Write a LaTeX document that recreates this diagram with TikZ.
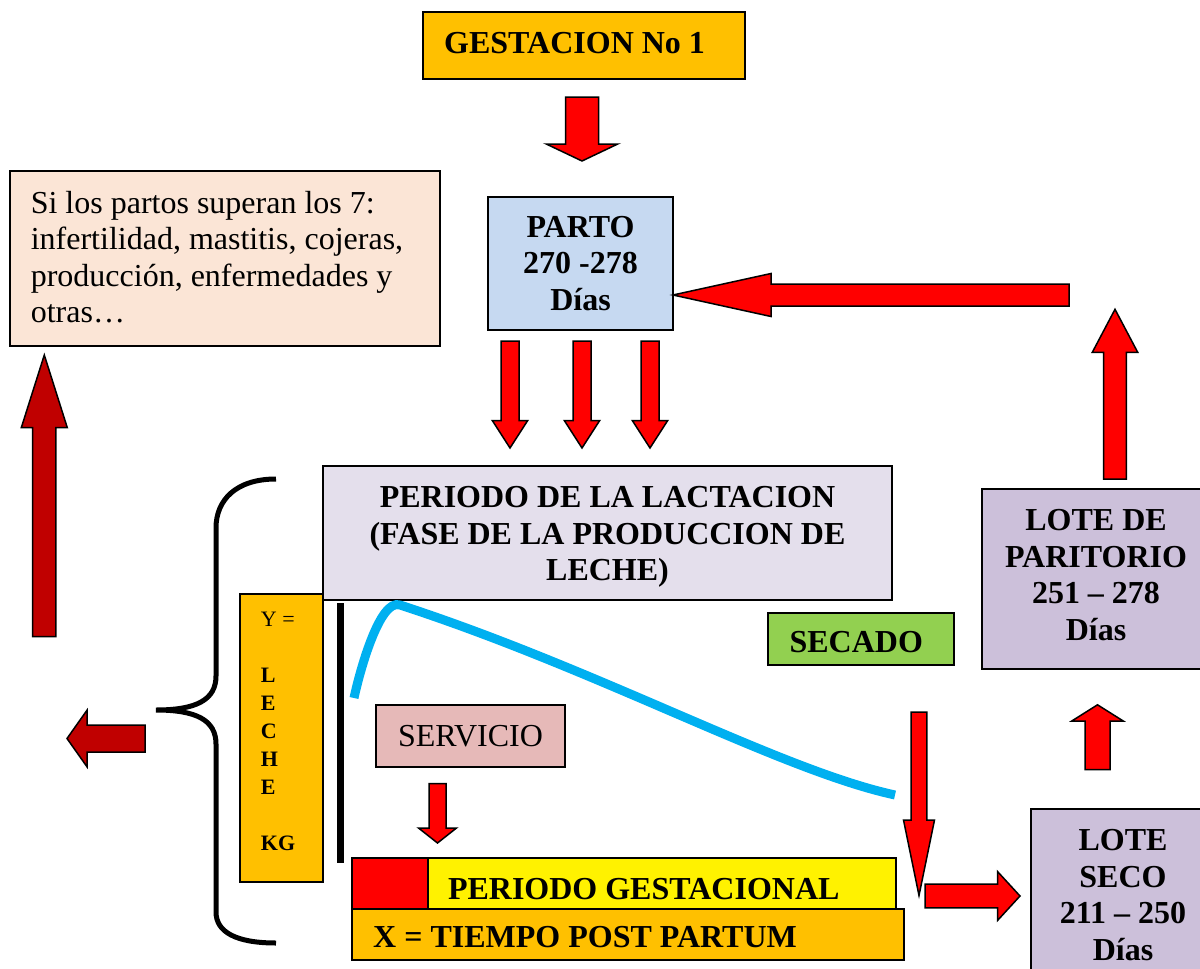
\documentclass[tikz,border=0pt]{standalone}
\usepackage{fontspec}
\setmainfont{Liberation Serif}
\usetikzlibrary{calc}

\definecolor{gold}{HTML}{FFC000}
\definecolor{peach}{HTML}{FBE5D6}
\definecolor{skyblue}{HTML}{C6D9F1}
\definecolor{lavender}{HTML}{E4DFEC}
\definecolor{lilac}{HTML}{CCC0DA}
\definecolor{rose}{HTML}{E6B9B8}
\definecolor{leaf}{HTML}{92D050}
\definecolor{darkred}{HTML}{C00000}
\definecolor{milkline}{HTML}{00B0F0}

% block arrow: tail, tip, half shaft, half head, head length, fill
\newcommand{\blockarrow}[6]{%
  \path ($(#2)!#5!(#1)$) coordinate (hb);
  \filldraw[arrowline, fill=#6] ($(#1)!#3!90:(#2)$) -- ($(hb)!#3!-90:(#1)$) -- ($(hb)!#4!-90:(#1)$) -- (#2)
    -- ($(hb)!#4!90:(#1)$) -- ($(hb)!#3!90:(#1)$) -- ($(#1)!#3!-90:(#2)$) -- cycle;
}

\begin{document}
\begin{tikzpicture}[x=1pt, y=-1pt,
    box/.style={draw, line width=2pt, inner sep=0pt, outer sep=0pt, anchor=north west, align=center},
    boldtxt/.style={inner sep=0pt, font=\fontsize{32}{36.5}\selectfont\bfseries},
    plaintxt/.style={inner sep=0pt, font=\fontsize{32}{36.5}\selectfont},
    arrowline/.style={draw=black, line width=1.5pt}]
    \useasboundingbox (0,0) rectangle (1200,969);

    % Top boxes
    \node[box, fill=gold, minimum width=322pt, minimum height=67pt] (gest) at (423,12) {};
    \node[boldtxt, anchor=base west] (gestlbl) at (444,53) {GESTACION No 1};

    \node[box, fill=peach, minimum width=430pt, minimum height=175pt] (note) at (10,171) {};
    \node[plaintxt, anchor=north west, align=left] (notelbl) at (30.6,191)
        {Si los partos superan los 7:\\infertilidad, mastitis, cojeras,\\producción, enfermedades y\\otras…};

    \node[box, boldtxt, fill=skyblue, minimum width=185pt, minimum height=133pt] (parto) at (488,197) {PARTO\\270 -278\\Días};

    % Lactation block
    \node[box, fill=lavender, minimum width=569pt, minimum height=134pt] (lact) at (323,466) {};
    \node[boldtxt, align=center] (lactlbl) at ($(lact.center)+(0,4)$)
        {PERIODO DE LA LACTACION\\(FASE DE LA PRODUCCION DE\\LECHE)};

    \node[box, fill=gold, minimum width=83pt, minimum height=288pt] (leche) at (240,594) {};
    \node[inner sep=0pt, anchor=north west, align=left, font=\fontsize{22}{28}\selectfont\bfseries] (lechelbl) at (260.7,612)
        {{\mdseries Y =}\\[28pt]L\\E\\C\\H\\E\\[28pt]KG};

    \node[box, plaintxt, fill=rose, minimum width=189pt, minimum height=62pt] (serv) at (376,705) {SERVICIO};

    \node[box, fill=red, minimum width=76pt, minimum height=51pt] (redbox) at (352,858) {};
    \node[box, fill=yellow, minimum width=468pt, minimum height=51pt] (yellowbox) at (428,858) {};
    \node[box, fill=gold, minimum width=552pt, minimum height=51pt] (xbox) at (352,909) {};
    \node[boldtxt, anchor=base west] (gestac) at (447.8,899) {PERIODO GESTACIONAL};
    \node[boldtxt, anchor=base west] (xlbl) at (373,947.8) {X = TIEMPO POST PARTUM};

    % Right side boxes
    \node[box, fill=leaf, minimum width=186pt, minimum height=52pt] (secado) at (768,613) {};
    \node[boldtxt, anchor=base west] (secadolbl) at (789.4,652.5) {SECADO};

    \node[box, fill=lilac, minimum width=228pt, minimum height=180pt] (parit) at (982,489) {};
    \node[boldtxt, align=center] (paritlbl) at ($(parit.center)+(0,-4)$) {LOTE DE\\PARITORIO\\251 – 278\\Días};
    \node[box, boldtxt, fill=lilac, minimum width=184pt, minimum height=172pt] (seco) at (1031,809) {LOTE\\SECO\\211 – 250\\Días};

    % Y axis and milk curve
    \coordinate (ytop) at (340.5,603);
    \coordinate (ybot) at (340.5,863);
    \draw[line width=7pt] (ytop) -- (ybot);
    \draw[milkline, line width=9pt] (354,698) .. controls (360,670) and (380,598) .. (400,605)
        .. controls (600,670) and (780,770) .. (895,795);

    % Brace
    \draw[line width=5pt] (276,479) .. controls (236,479) and (216,500) .. (216,528) -- (216,676)
        .. controls (216,700) and (196,710) .. (156,710) .. controls (196,710) and (216,720) .. (216,744)
        -- (216,912) .. controls (216,932) and (236,943) .. (276,943);

    % Arrows
    \coordinate (g1) at (582,97);
    \coordinate (g2) at (582,161);
    \blockarrow{g1}{g2}{16.5pt}{35.75pt}{17pt}{red}

    \foreach \x/\n in {510/a, 582/b, 650/c} {
        \coordinate (p\n1) at (\x,341);
        \coordinate (p\n2) at (\x,448);
        \blockarrow{p\n1}{p\n2}{9pt}{17.7pt}{27.5pt}{red}
    }

    \coordinate (r1) at (1069,295);
    \coordinate (r2) at (673,295);
    \blockarrow{r1}{r2}{11pt}{21.5pt}{98pt}{red}

    \coordinate (u1) at (1115,479);
    \coordinate (u2) at (1115,309.3);
    \blockarrow{u1}{u2}{11.35pt}{22.7pt}{43pt}{red}

    \coordinate (d1) at (44.3,636.7);
    \coordinate (d2) at (44.3,355);
    \blockarrow{d1}{d2}{11.65pt}{23pt}{72.7pt}{darkred}

    \coordinate (l1) at (145,738.5);
    \coordinate (l2) at (67,738.5);
    \blockarrow{l1}{l2}{13.5pt}{28.3pt}{20pt}{darkred}

    \coordinate (s1) at (437.5,783.5);
    \coordinate (s2) at (437.5,843);
    \blockarrow{s1}{s2}{8.5pt}{19pt}{15pt}{red}

    \coordinate (k1) at (919,712);
    \coordinate (k2) at (919,895.5);
    \blockarrow{k1}{k2}{7.85pt}{15.5pt}{75.5pt}{red}

    \coordinate (e1) at (925,896);
    \coordinate (e2) at (1020,896);
    \blockarrow{e1}{e2}{11.8pt}{24.5pt}{22.5pt}{red}

    \coordinate (v1) at (1097.5,769.6);
    \coordinate (v2) at (1097.5,704.8);
    \blockarrow{v1}{v2}{12.5pt}{25.75pt}{16.2pt}{red}

\end{tikzpicture}
\end{document}
